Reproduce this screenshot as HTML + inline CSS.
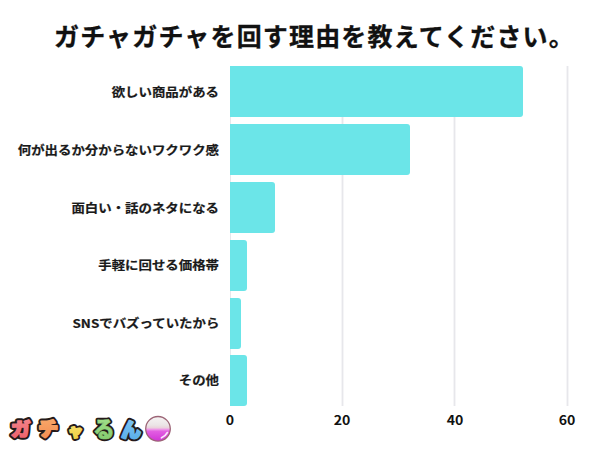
<!DOCTYPE html>
<html lang="ja">
<head>
<meta charset="utf-8">
<style>
html,body{margin:0;padding:0;background:#fff;}
body{width:600px;height:450px;position:relative;overflow:hidden;
  font-family:"Liberation Sans","Noto Sans CJK JP",sans-serif;color:#1a1a1a;}
.title{position:absolute;left:54px;top:18px;
  font-family:"Noto Sans CJK JP",sans-serif;font-weight:700;font-size:25px;letter-spacing:1.17px;line-height:34px;color:#111;-webkit-text-stroke:0.3px #111;white-space:nowrap;}
.grid{position:absolute;top:66px;height:340px;width:1px;background:#e7e7eb;box-shadow:-1px 0 0 #f5f5f7,1px 0 0 #f5f5f7;}
.bar{position:absolute;left:230px;height:51px;background:#6be5e8;border-radius:0 3px 3px 0;}
.lab{position:absolute;right:381px;height:20px;line-height:20px;font-family:"Noto Sans CJK JP",sans-serif;
  font-weight:700;font-size:12px;white-space:nowrap;color:#1a1a1a;-webkit-text-stroke:0.2px #1a1a1a;transform:scaleX(1.118);transform-origin:100% 50%;}
.tick{position:absolute;top:410px;width:40px;margin-left:-20px;text-align:center;font-family:"Noto Sans CJK JP",sans-serif;
  font-weight:700;font-size:12.6px;line-height:20px;color:#111;transform:scaleX(1.12);}
.logo{position:absolute;left:0;top:405px;}
</style>
</head>
<body>
<div class="title">ガチャガチャを回す理由を教えてください。</div>

<div class="grid" style="left:230px;box-shadow:none"></div>
<div class="grid" style="left:342px"></div>
<div class="grid" style="left:454px"></div>
<div class="grid" style="left:567px"></div>

<div class="bar" style="top:66.3px;width:293px"></div>
<div class="bar" style="top:124.1px;width:179.5px"></div>
<div class="bar" style="top:181.9px;width:45px"></div>
<div class="bar" style="top:239.7px;width:16.5px"></div>
<div class="bar" style="top:297.5px;width:11px"></div>
<div class="bar" style="top:355.3px;width:16.7px"></div>

<div class="lab" style="top:82.0px">欲しい商品がある</div>
<div class="lab" style="top:139.8px">何が出るか分からないワクワク感</div>
<div class="lab" style="top:197.6px">面白い・話のネタになる</div>
<div class="lab" style="top:255.4px">手軽に回せる価格帯</div>
<div class="lab" style="top:313.2px">SNSでバズっていたから</div>
<div class="lab" style="top:370.3px">その他</div>

<div class="tick" style="left:230px">0</div>
<div class="tick" style="left:342.4px">20</div>
<div class="tick" style="left:454.8px">40</div>
<div class="tick" style="left:567.2px">60</div>

<svg class="logo" width="180" height="45" viewBox="0 405 180 45">
  <defs>
    <linearGradient id="gr" x1="0" y1="0" x2="0" y2="1"><stop offset="0" stop-color="#f58a90"/><stop offset="1" stop-color="#ec5f69"/></linearGradient>
    <linearGradient id="go" x1="0" y1="0" x2="0" y2="1"><stop offset="0" stop-color="#f9ad6e"/><stop offset="1" stop-color="#f38a4f"/></linearGradient>
    <linearGradient id="gy" x1="0" y1="0" x2="0" y2="1"><stop offset="0" stop-color="#f8e478"/><stop offset="1" stop-color="#efcd3e"/></linearGradient>
    <linearGradient id="gg" x1="0" y1="0" x2="0" y2="1"><stop offset="0" stop-color="#a8e292"/><stop offset="1" stop-color="#80cb6a"/></linearGradient>
    <linearGradient id="gb" x1="0" y1="0" x2="0" y2="1"><stop offset="0" stop-color="#86c8f4"/><stop offset="1" stop-color="#55ace8"/></linearGradient>
  </defs>
  <g font-family="Noto Sans CJK JP" font-weight="900" stroke-linejoin="round">
    <g stroke="#241a1a" stroke-width="6" fill="#241a1a">
      <text x="11.0" y="435.8" font-size="19.5" transform="translate(0 435.8) scale(1 0.93) translate(0 -435.8)">ガ</text>
      <text x="38.5" y="436.4" font-size="19.5">チ</text>
      <text x="68.3" y="436.4" font-size="14.5">ャ</text>
      <text x="93.3" y="436.9" font-size="21.3" stroke-width="4.4">る</text>
      <text x="121.3" y="436.5" font-size="19.5">ん</text>
    </g>
    <g stroke-width="2.2">
      <text x="11.0" y="435.8" font-size="19.5" fill="url(#gr)" stroke="url(#gr)" stroke-width="1.8" transform="translate(0 435.8) scale(1 0.93) translate(0 -435.8)">ガ</text>
      <text x="38.5" y="436.4" font-size="19.5" fill="url(#go)" stroke="url(#go)">チ</text>
      <text x="68.3" y="436.4" font-size="14.5" fill="url(#gy)" stroke="url(#gy)">ャ</text>
      <text x="93.3" y="436.9" font-size="21.3" fill="url(#gg)" stroke="url(#gg)" stroke-width="0.7">る</text>
      <text x="121.3" y="436.5" font-size="19.5" fill="url(#gb)" stroke="url(#gb)">ん</text>
    </g>
  </g>
  <defs>
    <linearGradient id="ball" x1="0" y1="0" x2="0" y2="1">
      <stop offset="0" stop-color="#f6f4f4"/>
      <stop offset="0.35" stop-color="#ebe4e6"/>
      <stop offset="0.46" stop-color="#ead2dc"/>
      <stop offset="0.52" stop-color="#ee9ae8"/>
      <stop offset="0.6" stop-color="#e25ee2"/>
      <stop offset="1" stop-color="#d034d6"/>
    </linearGradient>
  </defs>
  <circle cx="158" cy="428.8" r="12.3" fill="url(#ball)" stroke="#9c6476" stroke-width="1.3"/>
  <path d="M161.5 437.8 Q165.5 436 167.3 432.6" fill="none" stroke="#fbe6fb" stroke-width="1.8" stroke-linecap="round"/>
</svg>
</body>
</html>
